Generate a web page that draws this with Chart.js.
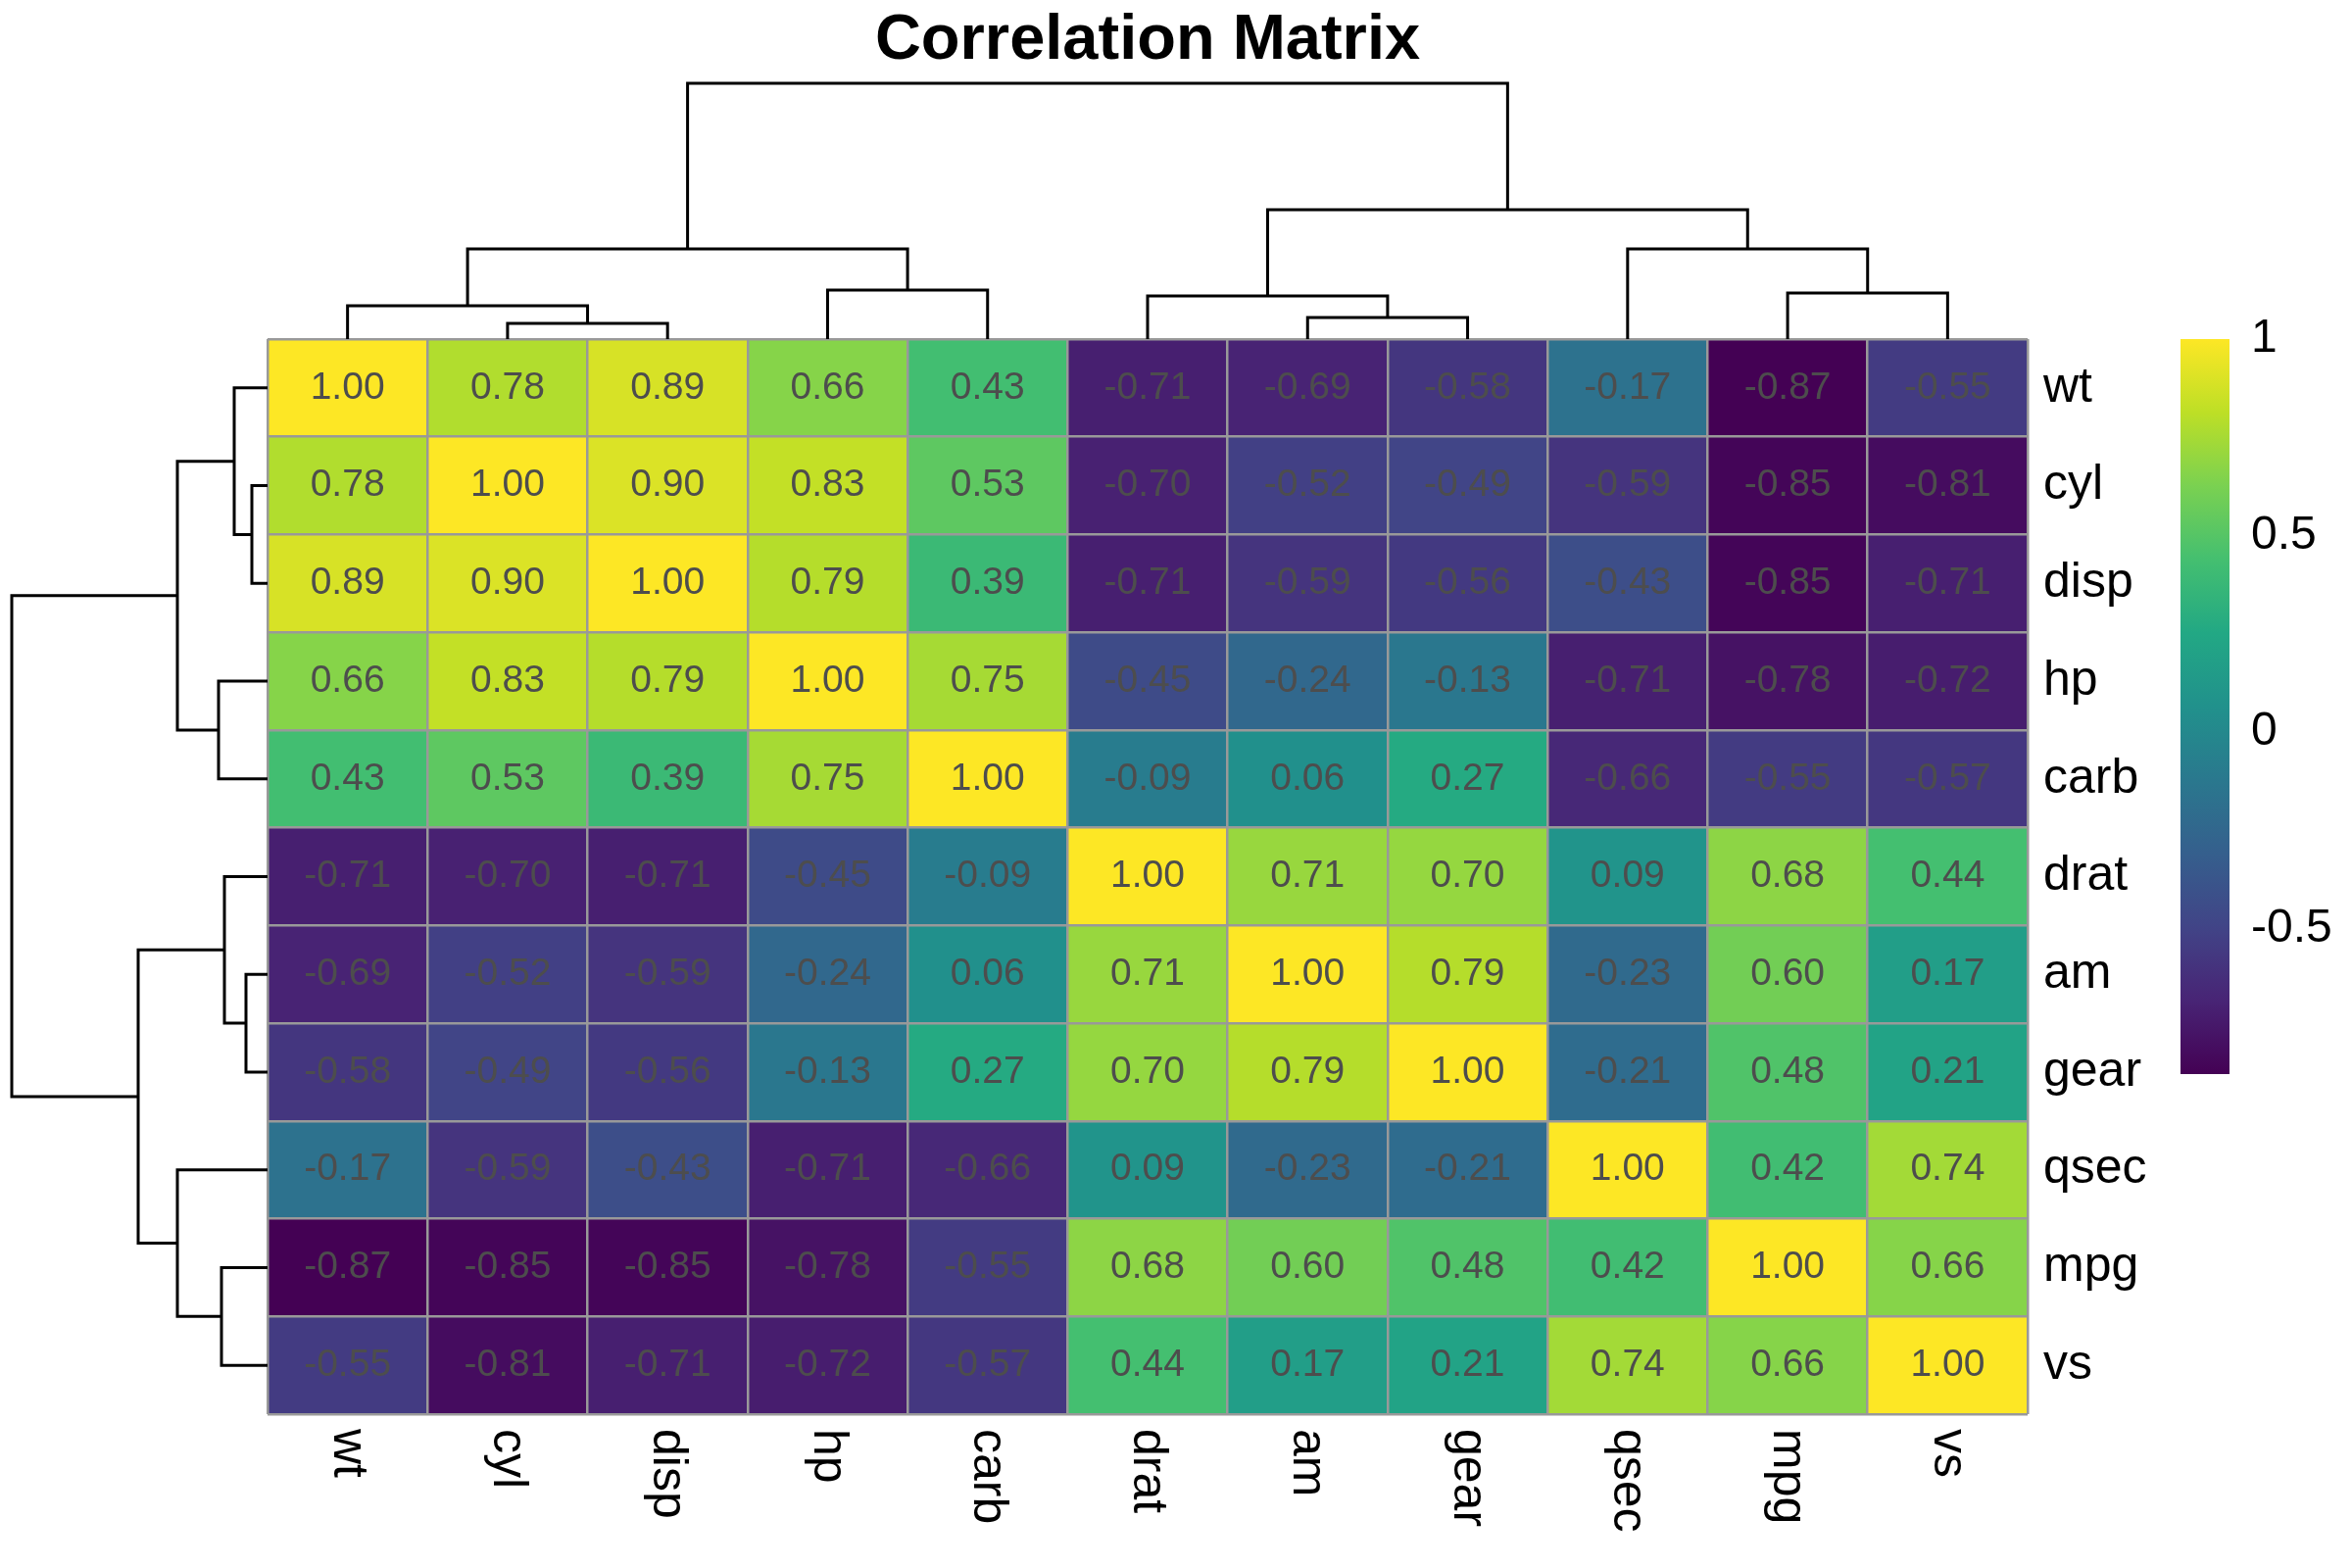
<!DOCTYPE html>
<html>
<head>
<meta charset="utf-8">
<title>Correlation Matrix</title>
<script src="https://cdn.jsdelivr.net/npm/chart.js@4.4.1/dist/chart.umd.min.js"></script>
<style>
  html, body { margin: 0; padding: 0; background: #ffffff; }
  body { width: 2400px; height: 1600px; position: relative; overflow: hidden; }
  canvas { position: absolute; }
</style>
</head>
<body>
<canvas id="heatmap" width="2400" height="1600" style="left:0;top:0"></canvas>
<canvas id="colTree" width="1796" height="351" style="left:273px;top:0"></canvas>
<canvas id="rowTree" width="276" height="1120" style="left:0;top:336px"></canvas>
<canvas id="legend" width="168" height="870" style="left:2225px;top:286px"></canvas>
<script>
// --- data, in the clustered order shown in the picture ---
const varNames = ['wt', 'cyl', 'disp', 'hp', 'carb', 'drat', 'am', 'gear', 'qsec', 'mpg', 'vs'];

const corr = [
  [ 1.00,  0.78,  0.89,  0.66,  0.43, -0.71, -0.69, -0.58, -0.17, -0.87, -0.55],
  [ 0.78,  1.00,  0.90,  0.83,  0.53, -0.70, -0.52, -0.49, -0.59, -0.85, -0.81],
  [ 0.89,  0.90,  1.00,  0.79,  0.39, -0.71, -0.59, -0.56, -0.43, -0.85, -0.71],
  [ 0.66,  0.83,  0.79,  1.00,  0.75, -0.45, -0.24, -0.13, -0.71, -0.78, -0.72],
  [ 0.43,  0.53,  0.39,  0.75,  1.00, -0.09,  0.06,  0.27, -0.66, -0.55, -0.57],
  [-0.71, -0.70, -0.71, -0.45, -0.09,  1.00,  0.71,  0.70,  0.09,  0.68,  0.44],
  [-0.69, -0.52, -0.59, -0.24,  0.06,  0.71,  1.00,  0.79, -0.23,  0.60,  0.17],
  [-0.58, -0.49, -0.56, -0.13,  0.27,  0.70,  0.79,  1.00, -0.21,  0.48,  0.21],
  [-0.17, -0.59, -0.43, -0.71, -0.66,  0.09, -0.23, -0.21,  1.00,  0.42,  0.74],
  [-0.87, -0.85, -0.85, -0.78, -0.55,  0.68,  0.60,  0.48,  0.42,  1.00,  0.66],
  [-0.55, -0.81, -0.71, -0.72, -0.57,  0.44,  0.17,  0.21,  0.74,  0.66,  1.00]
];

// dendrogram merges (same tree for rows and columns): [left, right, height]
// a name is a leaf, a number n is the n-th merge above
const merges = [
  ['cyl', 'disp', 0.16],
  ['wt', 1, 0.34],
  ['hp', 'carb', 0.50],
  [2, 3, 0.92],
  ['am', 'gear', 0.22],
  ['drat', 5, 0.44],
  ['mpg', 'vs', 0.47],
  ['qsec', 7, 0.92],
  [6, 8, 1.32],
  [4, 9, 2.61]
];

const legendTicks = [-0.5, 0, 0.5, 1];

// viridis colour stops
const viridis = ['#440154', '#482475', '#414487', '#355f8d', '#2a788e', '#21918c',
                 '#22a884', '#44bf70', '#7ad151', '#bddf26', '#fde725'];

const FONT = "'Liberation Sans', Arial, Helvetica, sans-serif";
Chart.defaults.font.family = FONT;

// heatmap box on the page
const HM = { left: 273, top: 346, right: 2069, bottom: 1443 };

const allValues = corr.flat();
const vMin = Math.min(...allValues);
const vMax = Math.max(...allValues);

function hexToRgb(h) {
  return [1, 3, 5].map(i => parseInt(h.slice(i, i + 2), 16));
}
const viridisRgb = viridis.map(hexToRgb);

function viridisAt(t) {
  t = Math.min(1, Math.max(0, t));
  const p = t * (viridisRgb.length - 1);
  const i = Math.min(Math.floor(p), viridisRgb.length - 2);
  const f = p - i;
  const a = viridisRgb[i], b = viridisRgb[i + 1];
  const c = a.map((v, k) => Math.round(v + (b[k] - v) * f));
  return `rgb(${c[0]},${c[1]},${c[2]})`;
}

function valueColor(v) {
  return viridisAt((v - vMin) / (vMax - vMin));
}

// --- dendrogram paths ---
function buildTree() {
  const leaves = {};
  varNames.forEach((n, i) => { leaves[n] = { pos: i + 0.5, h: 0 }; });
  const nodes = [];
  merges.forEach(([a, b, h]) => {
    const A = typeof a === 'number' ? nodes[a - 1] : leaves[a];
    const B = typeof b === 'number' ? nodes[b - 1] : leaves[b];
    nodes.push({
      pos: (A.pos + B.pos) / 2,
      h: h,
      path: [[A.pos, A.h], [A.pos, h], [B.pos, h], [B.pos, B.h]]
    });
  });
  return nodes;
}
const tree = buildTree();
const rootHeight = Math.max(...merges.map(m => m[2]));

function treeDatasets(horizontal) {
  return tree.map(node => ({
    data: node.path.map(([p, h]) => horizontal ? { x: p, y: h } : { x: h, y: p }),
    showLine: true,
    borderColor: '#000000',
    borderWidth: 3,
    borderJoinStyle: 'miter',
    pointRadius: 0,
    tension: 0,
    fill: false,
    clip: false
  }));
}

const baseOptions = {
  responsive: false,
  animation: false,
  devicePixelRatio: 1,
  events: []
};

// --- column dendrogram + title ---
new Chart(document.getElementById('colTree'), {
  type: 'scatter',
  data: { datasets: treeDatasets(true) },
  options: {
    ...baseOptions,
    layout: { padding: { left: 0, right: 0, top: 0, bottom: 351 - HM.top } },
    plugins: {
      legend: { display: false },
      tooltip: { enabled: false },
      title: {
        display: true,
        text: 'Correlation Matrix',
        color: '#000000',
        font: { size: 65, weight: 'bold' },
        padding: { top: 3, bottom: 4 }
      }
    },
    scales: {
      x: { type: 'linear', min: 0, max: varNames.length, display: false },
      y: { type: 'linear', min: 0, max: rootHeight, display: false }
    }
  }
});

// --- row dendrogram ---
new Chart(document.getElementById('rowTree'), {
  type: 'scatter',
  data: { datasets: treeDatasets(false) },
  options: {
    ...baseOptions,
    layout: { padding: { left: 12, right: 276 - HM.left, top: HM.top - 336, bottom: 1120 - (HM.bottom - 336) } },
    plugins: { legend: { display: false }, tooltip: { enabled: false } },
    scales: {
      x: { type: 'linear', min: 0, max: rootHeight, reverse: true, display: false },
      y: { type: 'linear', min: 0, max: varNames.length, reverse: true, display: false }
    }
  }
});

// --- cell numbers and rotated column labels ---
const cellText = {
  id: 'cellText',
  afterDraw(chart) {
    const { ctx } = chart;
    const xs = chart.scales.x, ys = chart.scales.y;
    ctx.save();
    ctx.font = `39px ${FONT}`;
    ctx.fillStyle = '#4d4d4d';
    ctx.textAlign = 'center';
    ctx.textBaseline = 'middle';
    corr.forEach((row, r) => row.forEach((v, c) => {
      ctx.fillText(v.toFixed(2), xs.getPixelForValue(c), ys.getPixelForValue(r + 0.5));
    }));
    ctx.restore();
  }
};

const columnLabels = {
  id: 'columnLabels',
  afterDraw(chart) {
    const { ctx, chartArea } = chart;
    const xs = chart.scales.x;
    ctx.save();
    ctx.font = `50px ${FONT}`;
    ctx.fillStyle = '#000000';
    ctx.textAlign = 'left';
    ctx.textBaseline = 'middle';
    varNames.forEach((name, c) => {
      ctx.save();
      ctx.translate(xs.getPixelForValue(c), chartArea.bottom + 15);
      ctx.rotate(Math.PI / 2);
      ctx.fillText(name, 0, 0);
      ctx.restore();
    });
    ctx.restore();
  }
};

// --- heatmap cells ---
const gridStyle = { offset: true, color: '#999999', lineWidth: 2.5, drawTicks: false, z: 1 };

new Chart(document.getElementById('heatmap'), {
  type: 'bar',
  data: {
    labels: varNames,
    datasets: varNames.map((name, r) => ({
      label: name,
      data: varNames.map(() => [r, r + 1]),
      backgroundColor: corr[r].map(valueColor),
      borderWidth: 0,
      grouped: false,
      barPercentage: 1,
      categoryPercentage: 1,
      xAxisID: 'x',
      yAxisID: 'y'
    }))
  },
  options: {
    ...baseOptions,
    layout: {
      padding: { left: HM.left, top: HM.top, right: 2400 - HM.right - 200, bottom: 1600 - HM.bottom - 10 }
    },
    plugins: { legend: { display: false }, tooltip: { enabled: false } },
    scales: {
      x: {
        type: 'category',
        position: 'bottom',
        offset: true,
        grid: gridStyle,
        border: { display: false },
        ticks: { display: false },
        afterFit: s => { s.height = 10; }
      },
      y: { type: 'linear', min: 0, max: varNames.length, reverse: true, display: false },
      yRows: {
        type: 'category',
        axis: 'y',
        labels: varNames,
        position: 'right',
        offset: true,
        grid: gridStyle,
        border: { display: false },
        ticks: { color: '#000000', font: { size: 50 }, padding: 16, autoSkip: false },
        afterFit: s => { s.width = 200; }
      }
    }
  },
  plugins: [cellText, columnLabels]
});

// --- colour legend ---
new Chart(document.getElementById('legend'), {
  type: 'bar',
  data: {
    labels: [''],
    datasets: [{
      data: [[vMin, vMax]],
      borderWidth: 0,
      barPercentage: 1,
      categoryPercentage: 1,
      backgroundColor: context => {
        const area = context.chart.chartArea;
        if (!area) return viridis[5];
        const g = context.chart.ctx.createLinearGradient(0, area.bottom, 0, area.top);
        viridis.forEach((col, i) => g.addColorStop(i / (viridis.length - 1), col));
        return g;
      }
    }]
  },
  options: {
    ...baseOptions,
    layout: { padding: { left: 0, right: 0, top: 60, bottom: 60 } },
    plugins: { legend: { display: false }, tooltip: { enabled: false } },
    scales: {
      x: { type: 'category', offset: true, display: false },
      y: {
        type: 'linear',
        min: vMin,
        max: vMax,
        position: 'right',
        grid: { display: false, drawTicks: false },
        border: { display: false },
        afterBuildTicks: s => { s.ticks = legendTicks.map(v => ({ value: v })); },
        ticks: { color: '#000000', font: { size: 48 }, padding: 22, callback: v => String(v) },
        afterFit: s => { s.width = 118; }
      }
    }
  }
});
</script>
</body>
</html>
